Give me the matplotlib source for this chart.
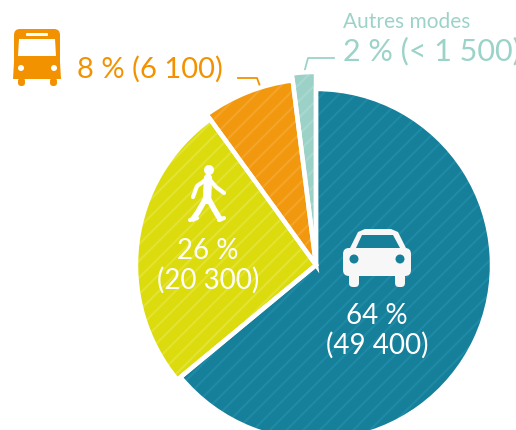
import matplotlib
matplotlib.use('Agg')
import matplotlib.pyplot as plt
from matplotlib.patches import Circle, FancyBboxPatch, Polygon

plt.rcParams['font.family'] = ['Lato', 'DejaVu Sans']
plt.rcParams['hatch.linewidth'] = 1.6

shares = [64, 26, 8, 2]
colors = ['#167F9A', '#DCDB0E', '#F2980F', '#9BD1C6']
stripes = ['#1E8AA5', '#E3E22E', '#F4A429', '#A8D8CE']
radii = [176, 180, 186, 193]
car_label = '64 %\n(49 400)'
walk_label = '26 %\n(20 300)'
bus_label = '8 % (6 100)'
other_title = 'Autres modes'
other_label = '2 % (< 1 500)*'

BUS = '#F39200'
TEAL = '#9CD3C9'
center = (316, 265)


def rounded(ax, x, y, w, h, r, color, z=5):
    ax.add_patch(FancyBboxPatch((x + r, y + r), w - 2 * r, h - 2 * r,
                                boxstyle='round,pad=%f,rounding_size=%f' % (r, r),
                                fc=color, ec='none', zorder=z))


def draw_bus(ax):
    rounded(ax, 14, 29, 46, 50, 6, BUS)
    ax.add_patch(Polygon([(13, 79), (15, 45), (59, 45), (61, 79)], fc=BUS, ec='none', zorder=5))
    rounded(ax, 18, 78, 7, 8, 3, BUS)
    rounded(ax, 50, 78, 7, 8, 3, BUS)
    rounded(ax, 26, 33, 22, 3, 1, 'white', 6)
    ax.add_patch(Polygon([(19, 39), (55, 39), (56, 56), (18, 56)], fc='white', ec='none', zorder=6))
    ax.add_patch(Circle((21, 68), 3, fc='white', ec='none', zorder=6))
    ax.add_patch(Circle((54, 68), 3, fc='white', ec='none', zorder=6))


def draw_car(ax):
    ax.add_patch(Polygon([(348, 252), (358, 232), (365, 229), (391, 229), (398, 232), (408, 252)],
                         fc='#F7F7F7', ec='none', zorder=5))
    ax.add_patch(Polygon([(356, 248), (362, 235), (393, 235), (400, 248)],
                         fc=colors[0], ec='none', zorder=6))
    rounded(ax, 343, 248, 68, 28, 6, '#F7F7F7')
    rounded(ax, 349, 270, 10, 17, 4, '#F7F7F7')
    rounded(ax, 395, 270, 10, 17, 4, '#F7F7F7')
    ax.add_patch(Circle((354, 259), 4.5, fc=colors[0], ec='none', zorder=6))
    ax.add_patch(Circle((400, 259), 4.5, fc=colors[0], ec='none', zorder=6))


def draw_walker(ax):
    ax.add_patch(Circle((209, 170), 5, fc='white', ec='none', zorder=5))
    parts = [([208, 207], [178, 200], 6),
             ([207, 197, 193], [179, 186, 197], 3),
             ([210, 216, 224], [180, 187, 193], 3),
             ([206, 198, 193], [198, 212, 219], 4),
             ([208, 214, 220], [198, 209, 219], 4),
             ([190, 197], [220, 218], 3),
             ([219, 224], [220, 218], 3)]
    for xs, ys, lw in parts:
        ax.plot(xs, ys, color='white', lw=lw, solid_capstyle='round', zorder=5)


fig = plt.figure(figsize=(5.16, 4.30), dpi=100)
ax = fig.add_axes([0, 0, 1, 1])

# y axis is flipped below, so -90 is the top of the picture
wedges, _ = ax.pie(shares, startangle=-90, counterclock=True, center=center, radius=176)
borders, _ = ax.pie(shares, startangle=-90, counterclock=True, center=center, radius=176)
for i in range(len(shares)):
    wedges[i].set_radius(radii[i])
    wedges[i].set(facecolor=colors[i], edgecolor=stripes[i], hatch='//', linewidth=0, zorder=2)
    borders[i].set_radius(radii[i])
    borders[i].set(facecolor='none', edgecolor='white', linewidth=3.2, zorder=3)

ax.set_xlim(0, 516)
ax.set_ylim(430, 0)
ax.set_aspect('auto')
ax.axis('off')

ax.text(377, 331, car_label, color='white', fontsize=20, ha='center', va='center',
        linespacing=1.15, zorder=6)
ax.text(208, 266, walk_label, color='white', fontsize=20, ha='center', va='center',
        linespacing=1.15, zorder=6)
ax.text(77, 69, bus_label, color=BUS, fontsize=21, ha='left', va='center')
ax.text(343, 22, other_title, color=TEAL, fontsize=15, ha='left', va='center')
ax.text(343, 51, other_label, color=TEAL, fontsize=22, ha='left', va='center')

ax.plot([238, 257, 261], [78, 78, 89], color=BUS, lw=1.3, zorder=1)
ax.plot([334, 308, 304], [58, 58, 73], color=TEAL, lw=1.3, zorder=1)

draw_bus(ax)
draw_car(ax)
draw_walker(ax)

fig.savefig('out.png', dpi=100)
